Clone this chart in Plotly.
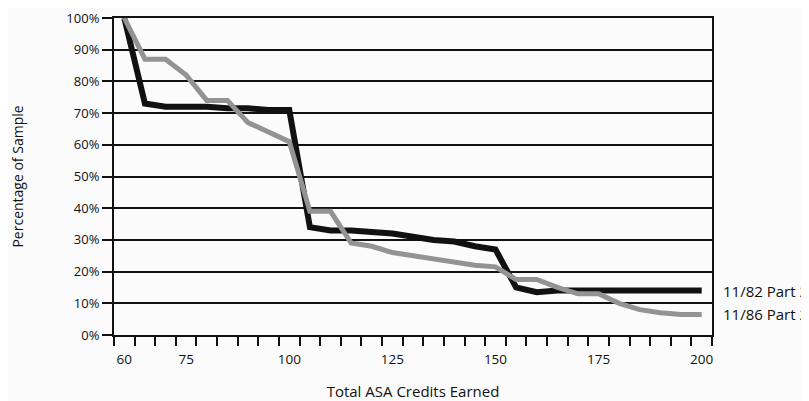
import plotly.graph_objects as go

credits = [60, 65, 70, 75, 80, 85, 90, 95, 100, 105, 110, 115, 120, 125, 130,
           135, 140, 145, 150, 155, 160, 165, 170, 175, 180, 185, 190, 195, 200]
pct_1182 = [100, 73, 72, 72, 72, 71.5, 71.5, 71, 71, 34, 33, 33, 32.5, 32, 31,
            30, 29.5, 28, 27, 15, 13.5, 14, 14, 14, 14, 14, 14, 14, 14]
pct_1186 = [100, 87, 87, 82, 74, 74, 67, 64, 61, 39, 39, 29, 28, 26, 25,
            24, 23, 22, 21.5, 17.5, 17.5, 15, 13, 13, 10, 8, 7, 6.5, 6.5]
series_names = ["11/82 Part 2", "11/86 Part 2"]
x_tick_vals = [60, 75, 100, 125, 150, 175, 200]
y_tick_vals = [0, 10, 20, 30, 40, 50, 60, 70, 80, 90, 100]
y_tick_text = [f"{v}%" for v in y_tick_vals]

FONT = "Open Sans"
bg = "#fbfbfb"

fig = go.Figure()
fig.add_trace(go.Scatter(x=credits, y=pct_1182, mode="lines", name=series_names[0],
                         line=dict(color="#111111", width=6)))
fig.add_trace(go.Scatter(x=credits, y=pct_1186, mode="lines", name=series_names[1],
                         line=dict(color="#939393", width=5)))

for name, vals in zip(series_names, [pct_1182, pct_1186]):
    fig.add_annotation(x=1, xref="paper", y=vals[-1], yref="y", text=name,
                       showarrow=False, xanchor="left", xshift=9,
                       font=dict(family=FONT, size=15, color="#111"))

fig.update_layout(
    width=801, height=393,
    margin=dict(l=106, r=97, t=10, b=66, autoexpand=False),
    paper_bgcolor=bg, plot_bgcolor=bg,
    showlegend=False,
    font=dict(family=FONT, color="#111"),
)
fig.update_xaxes(
    automargin=False,
    range=[57.5, 202.5], tickvals=x_tick_vals,
    ticks="outside", ticklen=11, tickcolor="rgba(0,0,0,0)",
    tickfont=dict(family=FONT, size=13.5, color="#111"),
    showgrid=False, zeroline=False,
    showline=True, linecolor="#111", linewidth=2, mirror=True,
    minor=dict(ticks="outside", ticklen=9, tickwidth=2, tickcolor="#111",
               tick0=57.5, dtick=5, showgrid=False),
    title=dict(text="Total ASA Credits Earned", standoff=19,
               font=dict(family=FONT, size=15, color="#111")),
)
fig.update_yaxes(
    automargin=False, ticklabeloverflow="allow",
    range=[0, 100], tickvals=y_tick_vals, ticktext=y_tick_text,
    ticks="outside", ticklen=10, tickwidth=2, tickcolor="#111",
    tickfont=dict(family=FONT, size=13, color="#111"),
    showgrid=True, gridcolor="#111", gridwidth=2, zeroline=False,
    showline=True, linecolor="#111", linewidth=2, mirror=True,
    title=dict(text="Percentage of Sample", standoff=43,
               font=dict(family=FONT, size=14, color="#111")),
)

fig.write_html("out.html")
